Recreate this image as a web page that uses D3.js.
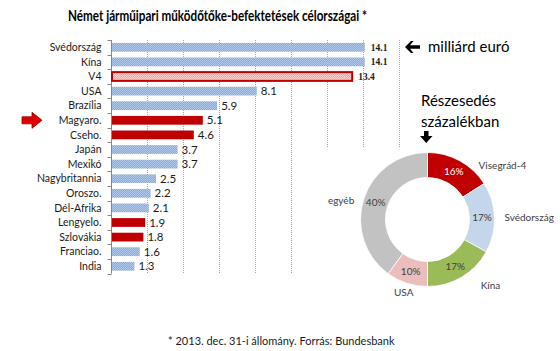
<!DOCTYPE html>
<html>
<head>
<meta charset="utf-8">
<script src="https://cdn.jsdelivr.net/npm/d3@7"></script>
<style>
  body { margin: 0; background: #fff; }
  svg { display: block; font-family: Lato, "Open Sans", sans-serif; }
</style>
</head>
<body>
<div id="chart"></div>
<script>
// bar chart data: billion euro
const countries = ["Svédország", "Kína", "V4", "USA", "Brazília", "Magyaro.", "Cseho.", "Japán",
                   "Mexikó", "Nagybritannia", "Oroszo.", "Dél-Afrika", "Lengyelo.", "Szlovákia", "Franciao.", "India"];
const amounts = [14.1, 14.1, 13.4, 8.1, 5.9, 5.1, 4.6, 3.7, 3.7, 2.5, 2.2, 2.1, 1.9, 1.8, 1.6, 1.3];
const v4Members = ["Magyaro.", "Cseho.", "Lengyelo.", "Szlovákia"];
const xTicks = [0, 2, 4, 6, 8, 10, 12, 14, 16];

// donut data: share in percent
const shareNames = ["Visegrád-4", "Svédország", "Kína", "USA", "egyéb"];
const shareValues = [16, 17, 17, 10, 40];

const width = 560,
      height = 351,
      margin = ({ top: 40, left: 111, bottom: 77 });

let svg = d3.select("#chart")
    .append("svg")
    .attr("width", width)
    .attr("height", height);

// hatch-like patterns, like the excel fills
let defs = svg.append("defs");
function dots(id, base, dot) {
    let p = defs.append("pattern")
        .attr("id", id)
        .attr("width", 2).attr("height", 2)
        .attr("patternUnits", "userSpaceOnUse");
    p.append("rect").attr("width", 2).attr("height", 2).attr("fill", base);
    p.append("rect").attr("width", 1).attr("height", 1).attr("fill", dot);
    p.append("rect").attr("x", 1).attr("y", 1).attr("width", 1).attr("height", 1).attr("fill", dot);
}
dots("blue", "#88abda", "#b0c9ea");
dots("pink", "#f0a8a8", "#f8d0d0");
dots("lightblue", "#b4cbe6", "#d2e0f1");
dots("rose", "#e3aaa9", "#f3d1d0");
dots("gray", "#b3b3b3", "#d0d0d0");

let x = d3.scaleLinear()
    .domain([0, 16])
    .range([margin.left, margin.left + 288]);

let y = d3.scaleBand()
    .domain(countries)
    .range([margin.top, margin.top + 16 * 14.6])
    .paddingInner(0.4)
    .paddingOuter(0.2);

// dotted vertical gridlines
svg.append("g")
    .selectAll("line")
    .data(xTicks.slice(1))
    .join("line")
    .attr("x1", d => Math.round(x(d)) + 0.5)
    .attr("x2", d => Math.round(x(d)) + 0.5)
    .attr("y1", y.range()[0])
    .attr("y2", y.range()[1])
    .attr("stroke", "#a6a6a6")
    .attr("stroke-dasharray", "1,1");

// category axis with ticks between bands
let yAxis = svg.append("g")
    .attr("transform", `translate(${margin.left + 0.5},0)`);
yAxis.append("line")
    .attr("y1", y.range()[0]).attr("y2", y.range()[1])
    .attr("stroke", "#868686");
yAxis.selectAll(".tk")
    .data(d3.range(countries.length + 1))
    .join("line")
    .attr("class", "tk")
    .attr("x1", -4).attr("x2", 0)
    .attr("y1", i => Math.round(y.range()[0] + i * y.step()) + 0.5)
    .attr("y2", i => Math.round(y.range()[0] + i * y.step()) + 0.5)
    .attr("stroke", "#868686");
yAxis.selectAll("text")
    .data(countries)
    .join("text")
    .attr("x", -10)
    .attr("y", d => y(d) + y.bandwidth() / 2)
    .attr("dy", "0.35em")
    .attr("text-anchor", "end")
    .attr("font-size", 10.5)
    .attr("fill", "#1a1a1a")
    .text(d => d);

let bar = svg.selectAll(".bar")
    .data(countries.map((c, i) => ({ name: c, value: amounts[i] })))
    .join("g")
    .attr("class", "bar");

bar.append("rect")
    .attr("x", margin.left + 1)
    .attr("y", d => y(d.name))
    .attr("width", d => x(d.value) - margin.left - 1)
    .attr("height", y.bandwidth())
    .attr("fill", d => d.name == "V4" ? "url(#pink)" : v4Members.includes(d.name) ? "#c00000" : "url(#blue)")
    .attr("stroke", d => d.name == "V4" ? "#c00000" : "none")
    .attr("stroke-width", 2);

bar.append("text")
    .attr("x", (d, i) => x(d.value) + (i < 3 ? 6 : 4))
    .attr("y", d => y(d.name) + y.bandwidth() / 2)
    .attr("dy", "0.35em")
    .attr("font-size", (d, i) => i < 3 ? 9.5 : 11.5)
    .attr("font-family", (d, i) => i < 3 ? "'Liberation Serif', serif" : null)
    .attr("font-weight", (d, i) => i < 3 ? "bold" : null)
    .attr("fill", "#1a1a1a")
    .text(d => d3.format(".1f")(d.value));

// title
svg.append("text")
    .attr("x", 68)
    .attr("y", 21)
    .attr("font-family", "'Liberation Sans Narrow', Lato, sans-serif")
    .attr("font-size", 15)
    .attr("font-weight", "bold")
    .attr("textLength", 299)
    .attr("lengthAdjust", "spacingAndGlyphs")
    .text("Német járműipari működőtőke-befektetések célországai *");

// red arrow pointing at Magyaro.
let hy = y("Magyaro.") + y.bandwidth() / 2;
svg.append("path")
    .attr("d", `M22,${hy - 3.5} L32,${hy - 3.5} L32,${hy - 8} L42,${hy} L32,${hy + 8} L32,${hy + 3.5} L22,${hy + 3.5} Z`)
    .attr("fill", "#e00000")
    .attr("stroke", "#900000")
    .attr("stroke-width", 0.8);

// unit note
let note = svg.append("g").attr("font-size", 15).attr("fill", "#000");
note.append("path")
    .attr("d", "M405,47 L411,41 L413.5,41 L410,45.3 L420,45.3 L420,48.7 L410,48.7 L413.5,53 L411,53 Z")
    .attr("fill", "#000");
note.append("text").attr("x", 428).attr("y", 52).text("milliárd euró");

// white panel for the donut (covers the gridlines)
svg.append("rect")
    .attr("x", 305).attr("y", 148)
    .attr("width", 255).attr("height", 170)
    .attr("fill", "#fff");

note.raise();
note.append("text").attr("x", 421).attr("y", 106).text("Részesedés");
note.append("text").attr("x", 421).attr("y", 127).text("százalékban");
note.append("path")
    .attr("d", "M420,136 L424,136 L424,131 L428.5,131 L428.5,136 L432.5,136 L426.2,143 Z")
    .attr("fill", "#000");

// donut
const cx = 427.5, cy = 219.5, rOut = 67, rIn = 42;
let pie = d3.pie().sort(null).value(d => d.value);
let arcs = pie(shareNames.map((n, i) => ({ name: n, value: shareValues[i] })));
let arc = d3.arc().innerRadius(rIn).outerRadius(rOut);
let mid = d3.arc().innerRadius((rIn + rOut) / 2).outerRadius((rIn + rOut) / 2);
const sliceFill = ["#c00000", "url(#lightblue)", "#9bbb59", "url(#rose)", "url(#gray)"];

let donut = svg.append("g").attr("transform", `translate(${cx},${cy})`);
donut.selectAll("path")
    .data(arcs)
    .join("path")
    .attr("d", arc)
    .attr("fill", (d, i) => sliceFill[i])
    .attr("stroke", "#fff")
    .attr("stroke-width", 0.8);

donut.selectAll(".pct")
    .data(arcs)
    .join("text")
    .attr("class", "pct")
    .attr("transform", d => `translate(${mid.centroid(d)})`)
    .attr("text-anchor", "middle")
    .attr("dy", "0.35em")
    .attr("font-size", 10)
    .attr("fill", (d, i) => i == 0 ? "#fff" : "#404040")
    .text(d => d.data.value + "%");

// outside labels: pushed a little toward the horizontal, like excel's best fit
donut.selectAll(".lbl")
    .data(arcs)
    .join("text")
    .attr("class", "lbl")
    .attr("transform", d => {
        let a = (d.startAngle + d.endAngle) / 2;
        let s = Math.sin(a), c = Math.cos(a);
        let r = rOut + 10;
        let px = r * s;
        if (Math.abs(s) > 0.4 && Math.abs(s) < 0.9) px += Math.sign(s) * 14;
        let py = -r * c * (c > 0 ? 0.8 : 1);
        return `translate(${px},${py})`;
    })
    .attr("text-anchor", d => {
        let a = (d.startAngle + d.endAngle) / 2;
        return Math.abs(Math.sin(a)) < 0.4 ? "middle" : Math.sin(a) > 0 ? "start" : "end";
    })
    .attr("dy", "0.35em")
    .attr("font-size", 10)
    .attr("fill", "#404040")
    .text(d => d.data.name);

// footnote
svg.append("text")
    .attr("x", 168)
    .attr("y", 345)
    .attr("font-size", 11)
    .attr("fill", "#1a1a1a")
    .text("* 2013. dec. 31-i állomány. Forrás: Bundesbank");
</script>
</body>
</html>
